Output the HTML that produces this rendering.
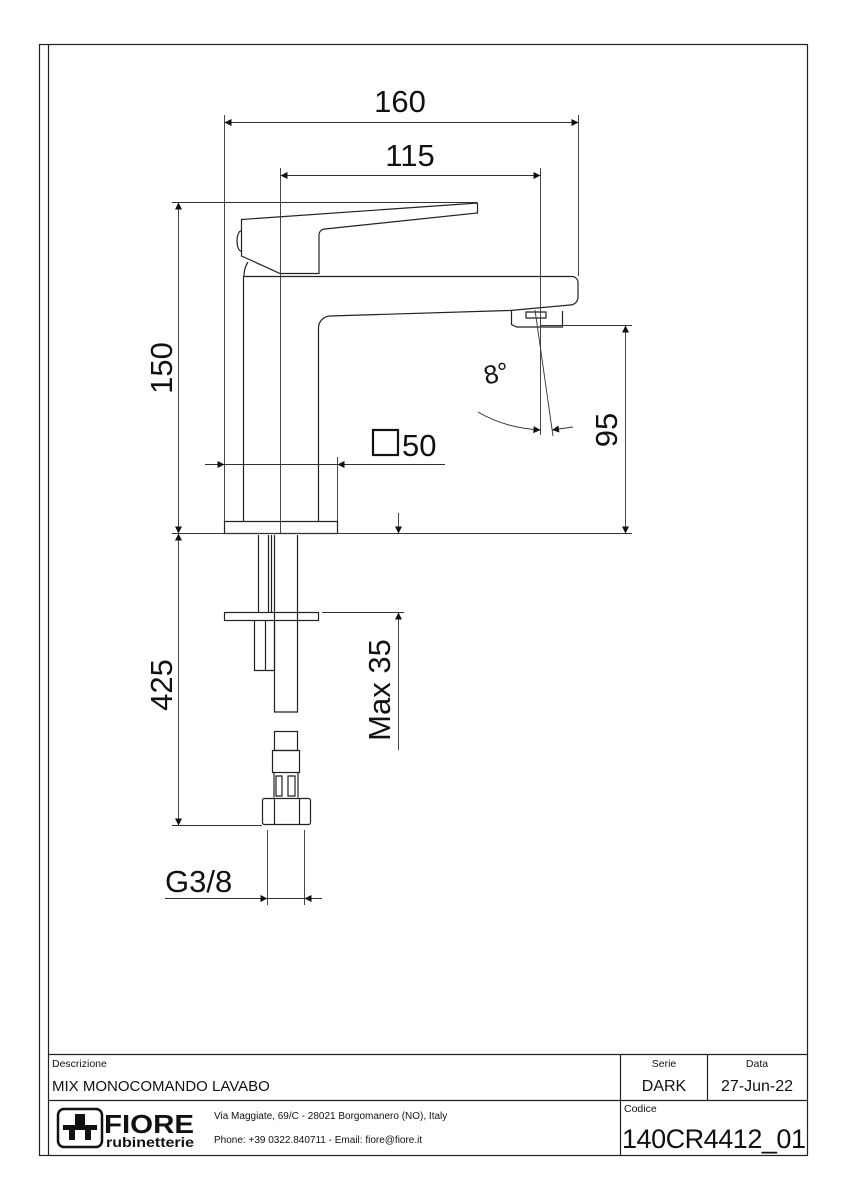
<!DOCTYPE html>
<html><head><style>body{margin:0;background:#fff}svg{display:block}text{font-family:"Liberation Sans",sans-serif;fill:#111}</style></head><body>
<svg width="849" height="1200" viewBox="0 0 849 1200" xmlns="http://www.w3.org/2000/svg">
<defs><marker id="a" viewBox="0 0 10 10" refX="10" refY="5" markerWidth="16" markerHeight="7" markerUnits="userSpaceOnUse" orient="auto"><path d="M0,0L10,5L0,10z" fill="#111"/></marker></defs>
<g fill="none" stroke="#222" stroke-width="1.2">
<rect x="39.5" y="44.5" width="768" height="1111"/>
<line x1="48.5" y1="44" x2="48.5" y2="1155"/>
<line x1="48" y1="1054.5" x2="807" y2="1054.5"/>
<line x1="48" y1="1100.5" x2="807" y2="1100.5"/>
<line x1="620.5" y1="1054" x2="620.5" y2="1155"/>
<line x1="707.5" y1="1054" x2="707.5" y2="1100"/>
<path d="M224.5,521.5h113v12h-113z"/>
<path d="M243.5,521V276.5H572a6,6 0 0 1 6,6V297a8,8 0 0 1 -8,8L510,310.5L330,316a12,12 0 0 0 -11.5,12V521"/>
<path d="M511.5,310.5v14l5,2.5h46v-16"/>
<path d="M526,318h20v-6h-20z"/>
<path d="M241.5,219.5L477.5,203v10L325,229a6,6 0 0 0 -6,6V273.5H280L241.5,256z"/>
<path d="M241,231a4,10 0 0 0 0,20"/>
<path d="M248,262q-4,6 -4,14"/>
<path d="M258.5,535v77M268.5,535v77M271.5,535v77"/>
<path d="M274.5,535v177h23V535"/>
<rect x="224.5" y="612.5" width="94" height="8"/>
<path d="M254.5,620.5v50h20v-50M265.5,620.5v50"/>
<rect x="274.5" y="731.5" width="23" height="19"/>
<rect x="272.5" y="750.5" width="27" height="22"/>
<path d="M276,776v20h6v-20zM288,776v20h7v-20z"/>
<path d="M274,772.5v25M298,772.5v25"/>
<rect x="262.5" y="798.5" width="48" height="26" rx="2"/>
<path d="M274.5,798.5v26M299.5,798.5v26"/>
</g>
<g fill="none" stroke="#333" stroke-width="0.9">
<line x1="224.5" y1="115" x2="224.5" y2="521"/>
<line x1="578.5" y1="115" x2="578.5" y2="276"/>
<line x1="280.5" y1="168" x2="280.5" y2="533"/>
<line x1="540.5" y1="168" x2="540.5" y2="435"/>
<line x1="172" y1="202.5" x2="477" y2="202.5"/>
<line x1="172" y1="533.5" x2="632" y2="533.5"/>
<line x1="540" y1="325.5" x2="632" y2="325.5"/>
<line x1="337.5" y1="457" x2="337.5" y2="521"/>
<line x1="535" y1="310" x2="553" y2="436"/>
<line x1="322" y1="612.5" x2="404" y2="612.5"/>
<line x1="172" y1="825.5" x2="262" y2="825.5"/>
<line x1="267.5" y1="830" x2="267.5" y2="905"/>
<line x1="304.5" y1="830" x2="304.5" y2="905"/>
<line x1="400" y1="122.5" x2="224.5" y2="122.5" marker-end="url(#a)"/>
<line x1="400" y1="122.5" x2="578.5" y2="122.5" marker-end="url(#a)"/>
<line x1="410" y1="175.5" x2="280.5" y2="175.5" marker-end="url(#a)"/>
<line x1="410" y1="175.5" x2="540.5" y2="175.5" marker-end="url(#a)"/>
<line x1="178.5" y1="360" x2="178.5" y2="202.5" marker-end="url(#a)"/>
<line x1="178.5" y1="360" x2="178.5" y2="533.5" marker-end="url(#a)"/>
<line x1="625.5" y1="430" x2="625.5" y2="325.5" marker-end="url(#a)"/>
<line x1="625.5" y1="430" x2="625.5" y2="533.5" marker-end="url(#a)"/>
<line x1="205" y1="464.5" x2="224.5" y2="464.5" marker-end="url(#a)"/>
<line x1="224.5" y1="464.5" x2="337.5" y2="464.5"/>
<line x1="445" y1="464.5" x2="337.5" y2="464.5" marker-end="url(#a)"/>
<line x1="398.5" y1="513" x2="398.5" y2="533.5" marker-end="url(#a)"/>
<line x1="398.5" y1="750" x2="398.5" y2="612.5" marker-end="url(#a)"/>
<line x1="178.5" y1="680" x2="178.5" y2="533.5" marker-end="url(#a)"/>
<line x1="178.5" y1="680" x2="178.5" y2="825.5" marker-end="url(#a)"/>
<line x1="165" y1="898.5" x2="267.5" y2="898.5" marker-end="url(#a)"/>
<line x1="267.5" y1="898.5" x2="304.5" y2="898.5"/>
<line x1="322" y1="898.5" x2="304.5" y2="898.5" marker-end="url(#a)"/>
<path d="M478,412Q505,428 540.5,430" marker-end="url(#a)"/>
<line x1="573" y1="427" x2="552" y2="430" marker-end="url(#a)"/>
</g>
<rect x="373" y="430" width="25" height="25" fill="none" stroke="#111" stroke-width="2.2"/>
<g font-size="31">
<text x="400" y="112" text-anchor="middle">160</text>
<text x="410" y="166" text-anchor="middle">115</text>
<text x="402" y="456">50</text>
<text x="165" y="892">G3/8</text>
<text transform="translate(172,368) rotate(-90)" text-anchor="middle">150</text>
<text transform="translate(617,430) rotate(-90)" text-anchor="middle">95</text>
<text transform="translate(172,685) rotate(-90)" text-anchor="middle">425</text>
<text transform="translate(390,690) rotate(-90)" text-anchor="middle">Max 35</text>
<text transform="translate(498,382) rotate(-12)" text-anchor="middle" font-size="26">8°</text>
</g>
<g>
<text x="52" y="1067" font-size="10.5">Descrizione</text>
<text x="52" y="1091" font-size="15">MIX MONOCOMANDO LAVABO</text>
<text x="664" y="1067" font-size="10.5" text-anchor="middle">Serie</text>
<text x="757" y="1067" font-size="10.5" text-anchor="middle">Data</text>
<text x="664" y="1091" font-size="16" text-anchor="middle">DARK</text>
<text x="757" y="1091" font-size="16" text-anchor="middle">27-Jun-22</text>
<text x="624" y="1112" font-size="10.5">Codice</text>
<text x="622" y="1148" font-size="27" textLength="184">140CR4412_01</text>
<text x="214" y="1119" font-size="10">Via Maggiate, 69/C - 28021 Borgomanero (NO), Italy</text>
<text x="214" y="1143" font-size="10">Phone: +39 0322.840711 - Email: fiore@fiore.it</text>
<rect x="58" y="1109" width="44" height="38" rx="6" fill="none" stroke="#111" stroke-width="2.5"/>
<path d="M63,1125h34v5h-6v10h-6v-10h-10v10h-6v-10h-6z" fill="#111"/>
<path d="M75,1114h10v11h-10z" fill="#111"/>
<text x="104" y="1133" font-size="26" font-weight="bold" textLength="90" lengthAdjust="spacingAndGlyphs">FIORE</text>
<text x="106" y="1147" font-size="14" font-weight="bold" textLength="88" lengthAdjust="spacingAndGlyphs">rubinetterie</text>
</g>
</svg>
</body></html>
